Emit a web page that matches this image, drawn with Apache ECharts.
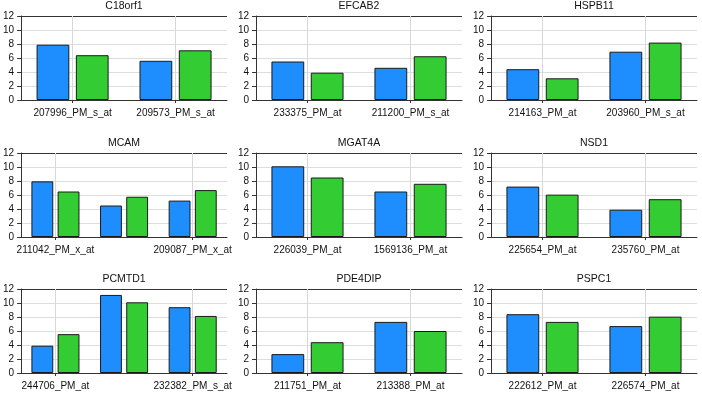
<!DOCTYPE html>
<html>
<head>
<meta charset="utf-8">
<script src="https://cdn.jsdelivr.net/npm/echarts@6/dist/echarts.min.js"></script>
<style>html,body{margin:0;padding:0;background:#fff;}#c{width:702px;height:393px;}</style>
</head>
<body>
<div id="c"></div>
<script>
const genes = ['C18orf1','EFCAB2','HSPB11','MCAM','MGAT4A','NSD1','PCMTD1','PDE4DIP','PSPC1'];
const probes = [
  ['207996_PM_s_at','209573_PM_s_at'],
  ['233375_PM_at','211200_PM_s_at'],
  ['214163_PM_at','203960_PM_s_at'],
  ['211042_PM_x_at','','209087_PM_x_at'],
  ['226039_PM_at','1569136_PM_at'],
  ['225654_PM_at','235760_PM_at'],
  ['244706_PM_at','','232382_PM_s_at'],
  ['211751_PM_at','213388_PM_at'],
  ['222612_PM_at','226574_PM_at']
];
const blueValues = [
  [7.9, 5.6],
  [5.5, 4.6],
  [4.4, 6.9],
  [7.95, 4.5, 5.2],
  [10.1, 6.5],
  [7.2, 3.9],
  [3.9, 11.15, 9.4],
  [2.7, 7.3],
  [8.4, 6.7]
];
const greenValues = [
  [6.4, 7.1],
  [3.9, 6.25],
  [3.1, 8.2],
  [6.5, 5.75, 6.7],
  [8.5, 7.6],
  [6.05, 5.4],
  [5.55, 10.1, 8.15],
  [4.4, 6.0],
  [7.3, 8.05]
];
const yTicks = [0, 2, 4, 6, 8, 10, 12];

const colLeft = [21, 256, 491];
const rowTop = [16, 153, 289];
const gw = 206, gh = 84;
const font = 'Liberation Sans, Arial, sans-serif';

const grids = [], xAxes = [], yAxes = [], series = [], titles = [];
genes.forEach((g, i) => {
  const r = Math.floor(i / 3), c = i % 3;
  const cats = probes[i].map((p, k) => p === '' ? 'cat' + k : p);
  const every = cats.length === 3 ? 1 : 0;
  grids.push({left: colLeft[c], top: rowTop[r], width: gw, height: gh});
  titles.push({
    text: g, left: colLeft[c] + gw / 2, top: rowTop[r] - 15, textAlign: 'center', padding: 0,
    textStyle: {fontFamily: font, fontSize: 10.5, fontWeight: 'normal', color: '#111'}
  });
  xAxes.push({
    type: 'category', gridIndex: i, data: cats,
    axisLine: {show: true, lineStyle: {color: '#333', width: 1}},
    axisTick: {show: true, alignWithLabel: true, interval: every, length: 3, lineStyle: {color: '#333'}},
    axisLabel: {interval: every, margin: 8, fontFamily: font, fontSize: 10, color: '#111',
      formatter: v => v.startsWith('cat') ? '' : v},
    splitLine: {show: false}
  });
  yAxes.push({
    type: 'value', gridIndex: i, min: 0, max: 12, interval: 2,
    axisLine: {show: true, lineStyle: {color: '#333', width: 1}},
    axisTick: {show: true, length: 4, lineStyle: {color: '#333'}},
    axisLabel: {margin: 7, fontFamily: font, fontSize: 10, color: '#111',
      customValues: yTicks},
    splitLine: {show: true, lineStyle: {color: ['#ddd','#ddd','#ddd','#ddd','#ddd','#ddd','#333'], width: 1}}
  });
  const markData = cats.filter((p, k) => every === 0 || k % 2 === 0).map(p => ({xAxis: p}));
  series.push({
    type: 'line', xAxisIndex: i, yAxisIndex: i, data: [], z: 1, silent: true,
    markLine: {silent: true, symbol: ['none', 'none'], label: {show: false},
      lineStyle: {color: '#d8d8d8', type: 'solid', width: 1}, data: markData}
  });
  series.push({
    type: 'bar', xAxisIndex: i, yAxisIndex: i, data: blueValues[i], z: 2,
    barGap: '20%', barCategoryGap: '30%',
    itemStyle: {color: '#1E8EFF', borderColor: '#1a1a1a', borderWidth: 1}
  });
  series.push({
    type: 'bar', xAxisIndex: i, yAxisIndex: i, data: greenValues[i], z: 2,
    barGap: '20%', barCategoryGap: '30%',
    itemStyle: {color: '#33CC33', borderColor: '#1a1a1a', borderWidth: 1}
  });
});

const chart = echarts.init(document.getElementById('c'), null, {renderer: 'canvas'});
chart.setOption({
  animation: false,
  backgroundColor: '#fff',
  title: titles,
  grid: grids,
  xAxis: xAxes,
  yAxis: yAxes,
  series: series
});
</script>
</body>
</html>
